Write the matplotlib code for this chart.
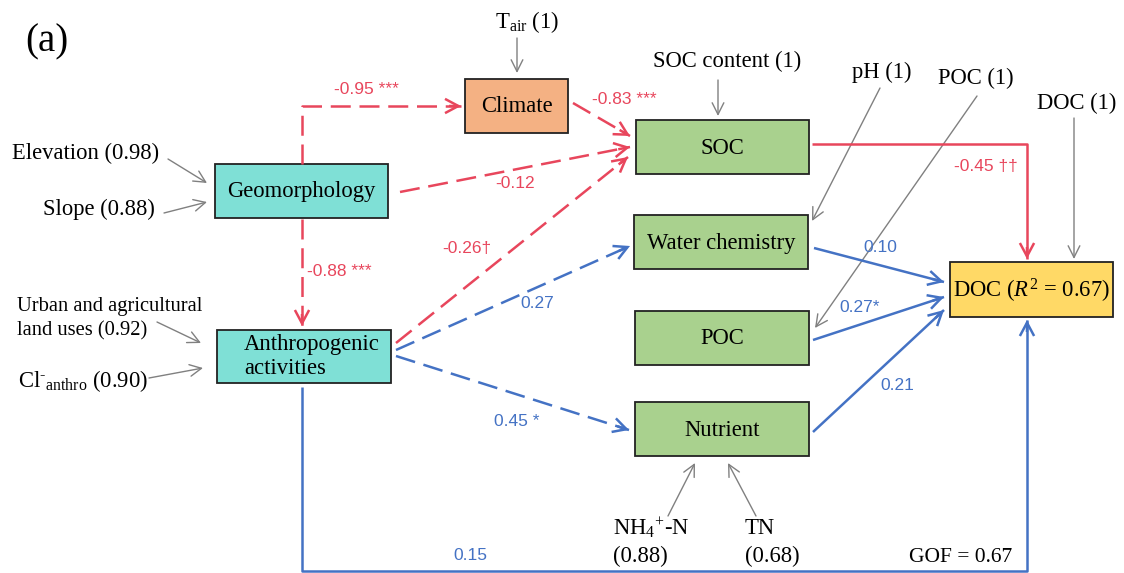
import numpy as np
import matplotlib.pyplot as plt
from matplotlib.patches import Rectangle, FancyArrowPatch

plt.rcParams['mathtext.fontset'] = 'custom'
plt.rcParams['mathtext.rm'] = 'Liberation Serif'
plt.rcParams['mathtext.it'] = 'Liberation Serif:italic'

SERIF = 'Liberation Serif'
SANS = 'Liberation Sans'
RED = '#E8465C'
BLUE = '#4472C4'
GREY = '#808080'

# latent constructs: label, fill colour, box (x0, y0, x1, y1) in pixel layout
nodes = {
    'climate': ('Climate', '#F4B183', (465, 79, 568, 133)),
    'geo': ('Geomorphology', '#7FE0D6', (215, 164, 388, 218)),
    'anthro': ('Anthropogenic\nactivities', '#7FE0D6', (217, 330, 391, 383)),
    'soc': ('SOC', '#A9D18E', (636, 120, 809, 174)),
    'water': ('Water chemistry', '#A9D18E', (634, 215, 808, 269)),
    'poc': ('POC', '#A9D18E', (635, 311, 809, 365)),
    'nutrient': ('Nutrient', '#A9D18E', (635, 402, 809, 456)),
    'doc': ('DOC ($R^2$ = 0.67)', '#FFD966', (950, 262, 1113, 317)),
}

# path coefficients with significance marks
coef_geo_climate = '-0.95 ***'
coef_geo_anthro = '-0.88 ***'
coef_climate_soc = '-0.83 ***'
coef_geo_soc = '-0.12'
coef_anthro_soc = '-0.26\u2020'
coef_anthro_water = '0.27'
coef_anthro_nutrient = '0.45 *'
coef_soc_doc = '-0.45 \u2020\u2020'
coef_water_doc = '0.10'
coef_poc_doc = '0.27*'
coef_nutrient_doc = '0.21'
coef_anthro_doc = '0.15'
gof = 'GOF = 0.67'

# indicator loadings
ind_elevation = 'Elevation (0.98)'
ind_slope = 'Slope (0.88)'
ind_landuse = ['Urban and agricultural', 'land uses (0.92)']
ind_cl = 'Cl$^{\\text{-}}$$_{\\rm anthro}$ (0.90)'
ind_tair = 'T$_{\\rm air}$ (1)'
ind_soc = 'SOC content (1)'
ind_ph = 'pH (1)'
ind_poc = 'POC (1)'
ind_doc = 'DOC (1)'
ind_nh4 = ['NH$_4$$^{+}$-N', '(0.88)']
ind_tn = ['TN', '(0.68)']

fig = plt.figure(figsize=(11.24, 5.73), dpi=100)
ax = fig.add_axes([0, 0, 1, 1])
ax.set_xlim(0, 1124)
ax.set_ylim(573, 0)
ax.axis('off')


def head(p_from, p_to, color, size=16, lw=1.8):
    """Solid open arrowhead at p_to pointing away from p_from."""
    p_from = np.asarray(p_from, float)
    p_to = np.asarray(p_to, float)
    d = p_to - p_from
    d /= np.hypot(*d)
    start = p_to - d * 12
    ax.add_patch(FancyArrowPatch(start, p_to, arrowstyle='->,head_length=0.6,head_width=0.32',
                                 mutation_scale=size, color=color, lw=lw,
                                 shrinkA=0, shrinkB=0, joinstyle='miter', capstyle='butt'))


def link(points, color, dashed=False, lw=1.8):
    pts = np.asarray(points, float)
    ls = (0, (8, 3.5)) if dashed else '-'
    ax.plot(pts[:, 0], pts[:, 1], color=color, lw=lw, ls=ls, solid_capstyle='butt',
            dash_capstyle='butt')
    head(pts[-2], pts[-1], color)


def thin(p_from, p_to):
    ax.add_patch(FancyArrowPatch(p_from, p_to, arrowstyle='->,head_length=0.7,head_width=0.35',
                                 mutation_scale=12, color=GREY, lw=1.0,
                                 shrinkA=0, shrinkB=0))


def coef(x, y, s, color, ha='center'):
    ax.text(x, y, s, color=color, fontsize=12.5, family=SANS, ha=ha, va='center')


def serif(x, y, s, ha='center', size=16.3, **kw):
    ax.text(x, y, s, fontsize=size, family=SERIF, ha=ha, va='center', color='black', **kw)


for key, (label, fill, (x0, y0, x1, y1)) in nodes.items():
    ax.add_patch(Rectangle((x0, y0), x1 - x0, y1 - y0, facecolor=fill,
                           edgecolor='#222222', lw=1.3, zorder=2))
    if key == 'anthro':
        serif(x0 + 27, (y0 + y1) / 2, label, ha='left', zorder=3, linespacing=1.15)
    else:
        serif((x0 + x1) / 2, (y0 + y1) / 2 + 1, label, zorder=3)

# panel tag
serif(25, 42, '(a)', ha='left', size=28)

# structural paths
link([(302, 164), (302, 106), (461, 106)], RED, dashed=True)
coef(366, 90, coef_geo_climate, RED)
link([(302, 219), (302, 326)], RED, dashed=True)
coef(307, 271, coef_geo_anthro, RED, ha='left')
link([(573, 103), (630, 136)], RED, dashed=True)
coef(624, 100, coef_climate_soc, RED)
link([(400, 192), (630, 147)], RED, dashed=True)
coef(515, 183, coef_geo_soc, RED)
link([(396, 343), (628, 157)], RED, dashed=True)
coef(467, 248, coef_anthro_soc, RED)
link([(396, 350), (630, 246)], BLUE, dashed=True)
coef(537, 303, coef_anthro_water, BLUE)
link([(396, 356), (629, 430)], BLUE, dashed=True)
coef(517, 421, coef_anthro_nutrient, BLUE)

link([(812, 144), (1027, 144), (1027, 259)], RED)
coef(986, 166, coef_soc_doc, RED)
link([(814, 248), (944, 282)], BLUE)
coef(880, 248, coef_water_doc, BLUE)
link([(813, 340), (944, 297)], BLUE)
coef(860, 308, coef_poc_doc, BLUE)
link([(813, 432), (944, 310)], BLUE)
coef(897, 385, coef_nutrient_doc, BLUE)
link([(302, 387), (302, 571), (1027, 571), (1027, 320)], BLUE)
coef(470, 556, coef_anthro_doc, BLUE)
serif(961, 557, gof, size=15.5)

# measured indicators
serif(12, 153, ind_elevation, ha='left')
thin((168, 159), (207, 183))
serif(155, 209, ind_slope, ha='right')
thin((164, 213), (207, 202))
serif(17, 307, ind_landuse[0], ha='left', size=14.8)
serif(17, 331, ind_landuse[1], ha='left', size=14.8)
thin((157, 322), (201, 343))
serif(18, 381, ind_cl, ha='left')
thin((149, 378), (203, 368))
serif(527, 22, ind_tair)
thin((517, 38), (517, 73))
serif(727, 61, ind_soc)
thin((718, 80), (718, 116))
serif(882, 72, ind_ph)
thin((880, 88), (812, 221))
serif(976, 78, ind_poc)
thin((977, 96), (815, 328))
serif(1077, 103, ind_doc)
thin((1074, 118), (1074, 259))
serif(613, 528, ind_nh4[0], ha='left')
serif(613, 556, ind_nh4[1], ha='left')
thin((668, 516), (695, 463))
serif(745, 528, ind_tn[0], ha='left')
serif(745, 556, ind_tn[1], ha='left')
thin((756, 516), (728, 463))

fig.savefig('out.png', dpi=100)
